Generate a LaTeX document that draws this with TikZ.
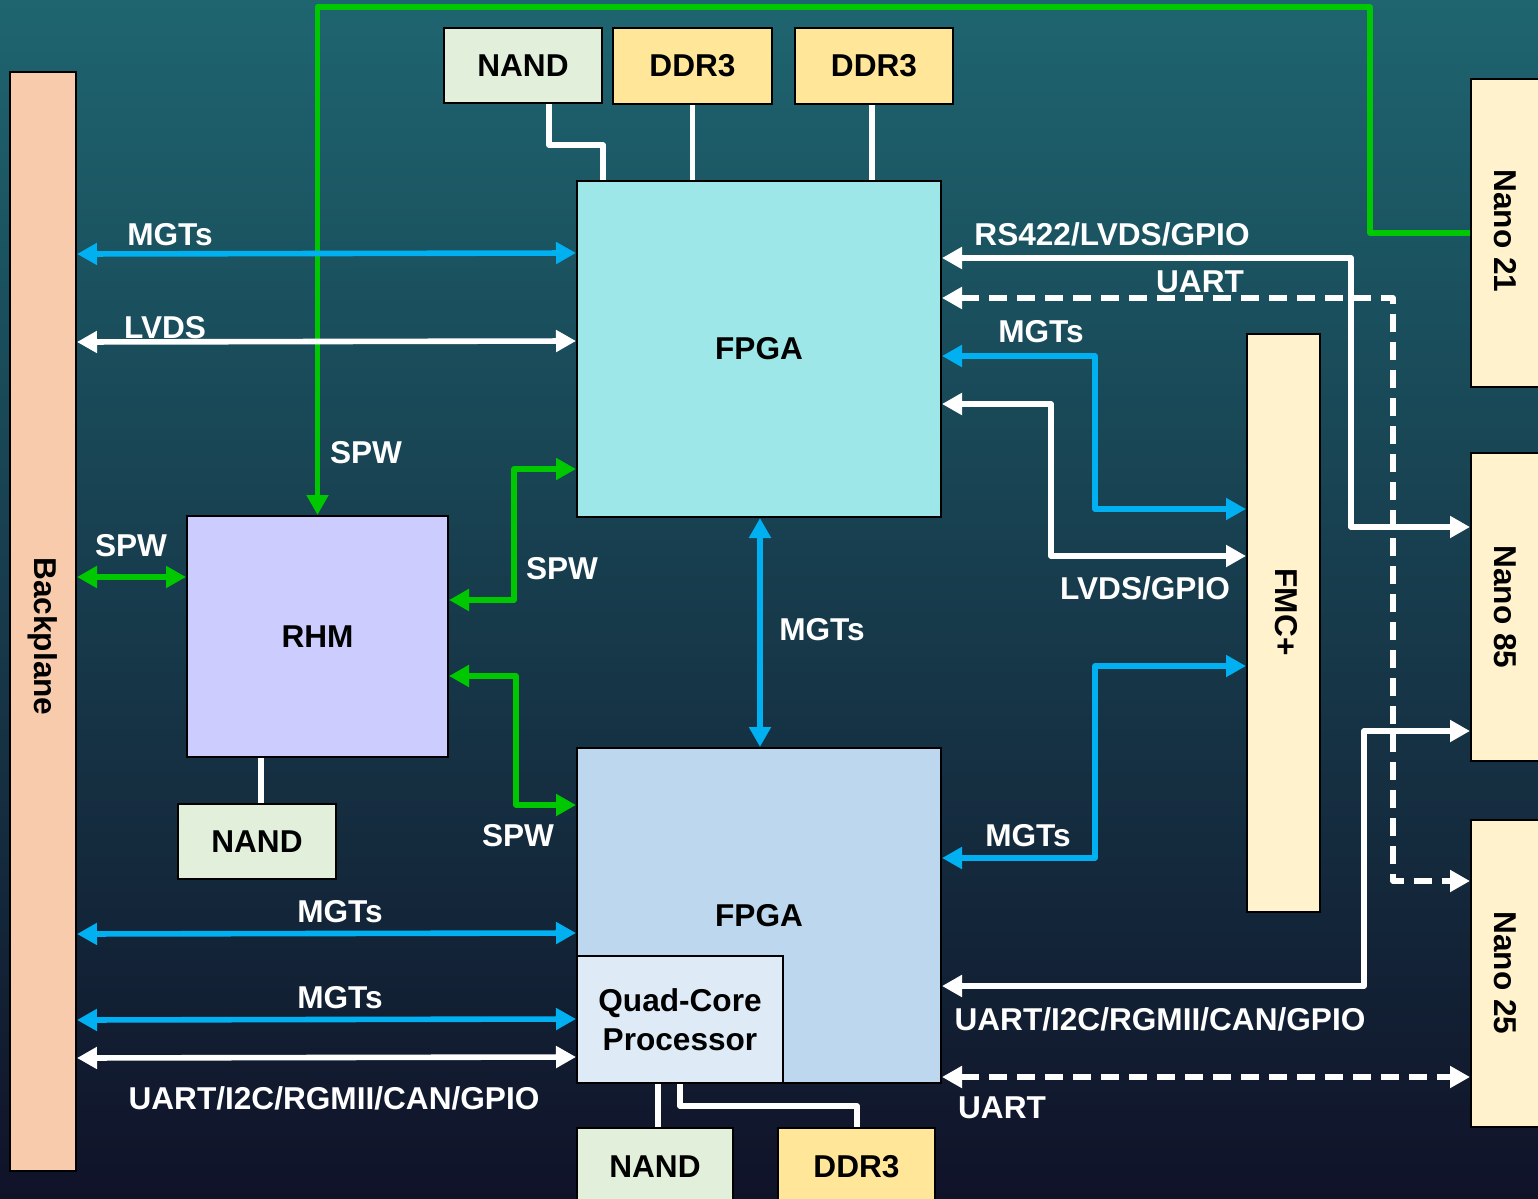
\documentclass[tikz,border=0pt]{standalone}
\usepackage{fontspec}
\setmainfont{Liberation Sans}
\usetikzlibrary{arrows.meta}
\definecolor{bpfill}{HTML}{F8CBAD}
\definecolor{nandfill}{HTML}{E2EFDA}
\definecolor{ddrfill}{HTML}{FFE699}
\definecolor{fpgaA}{HTML}{9EE7E9}
\definecolor{fpgaB}{HTML}{BDD7EE}
\definecolor{qcpfill}{HTML}{DEEBF7}
\definecolor{rhmfill}{HTML}{CCCCFF}
\definecolor{nanofill}{HTML}{FFF2CC}
\definecolor{linkblue}{HTML}{00B0F0}
\definecolor{linkgreen}{HTML}{00C800}
\definecolor{bgtop}{HTML}{1E6570}
\definecolor{bgbot}{HTML}{101228}
\newcommand{\dfont}{\bfseries\fontsize{15.8}{19.5}\selectfont}
\begin{document}
\begin{tikzpicture}[x=0.5pt,y=-0.5pt,
  >={Triangle[length=10pt,width=10.5pt]},
  box/.style={draw=black, line width=1pt, inner sep=0pt, font=\dfont, text=black, align=center},
  rottext/.style={rotate=-90, inner sep=0pt, font=\dfont, text=black},
  lbl/.style={text=white, inner sep=0pt, text height=11.3pt, text depth=0pt, font=\dfont},
  link/.style={line width=2.8pt, line join=round},
  bl/.style={link, draw=linkblue},
  wl/.style={link, draw=white},
  gl/.style={link, draw=linkgreen},
  dl/.style={link, draw=white, dash pattern=on 9pt off 5pt}
]
\useasboundingbox (0,0) rectangle (1538,1199);
\begin{scope}
\clip (0,0) rectangle (1538,1199);
\shade[top color=bgtop, bottom color=bgbot] (0,0) rectangle (1538,1199);

% boxes
\node[box, fill=bpfill, minimum width=33pt, minimum height=549.5pt] (Backplane) at (43,621.5) {};
\node[rottext] (bptext) at (43,636.5) {Backplane};
\node[box, fill=nandfill, minimum width=79pt, minimum height=37.5pt] (NANDt) at (523,65.5) {NAND};
\node[box, fill=ddrfill, minimum width=79.5pt, minimum height=38pt] (DDRa) at (692.5,66) {DDR3};
\node[box, fill=ddrfill, minimum width=79pt, minimum height=38pt] (DDRb) at (874,66) {DDR3};
\node[box, fill=fpgaA, minimum width=182pt, minimum height=168pt] (FPGA1) at (759,349) {FPGA};
\node[box, fill=rhmfill, minimum width=130.5pt, minimum height=120.5pt] (RHM) at (317.5,636.5) {RHM};
\node[box, fill=nandfill, minimum width=79pt, minimum height=37.5pt] (NANDr) at (257,841.5) {NAND};
\node[box, fill=fpgaB, minimum width=182pt, minimum height=167.5pt] (FPGA2) at (759,915.5) {FPGA};
\node[box, fill=qcpfill, minimum width=103pt, minimum height=63.5pt] (QCP) at (680,1019.5) {Quad-Core\\Processor};
\node[box, fill=nandfill, minimum width=78pt, minimum height=39pt] (NANDb) at (655,1167) {NAND};
\node[box, fill=ddrfill, minimum width=78.5pt, minimum height=39pt] (DDRc) at (856.5,1167) {DDR3};
\node[box, fill=nanofill, minimum width=36.5pt, minimum height=289pt] (FMC) at (1283.5,623) {};
\node[rottext] (fmctext) at (1286,612) {FMC+};
\node[box, fill=nanofill, minimum width=37pt, minimum height=154pt] (Nano21) at (1508,233) {};
\node[rottext] (n21text) at (1505,231) {Nano 21};
\node[box, fill=nanofill, minimum width=37pt, minimum height=154pt] (Nano85) at (1508,607) {};
\node[rottext] (n85text) at (1505,607) {Nano 85};
\node[box, fill=nanofill, minimum width=37pt, minimum height=153.5pt] (Nano25) at (1508,973.5) {};
\node[rottext] (n25text) at (1505,973) {Nano 25};

% green SPW from Nano 21 to RHM
\draw[gl,->] (Nano21.west) -| (1370,7) -| (RHM.north);

% memory links
\draw[wl] (549,0 |- NANDt.south) |- (603,145) -- (603,0 |- FPGA1.north);
\draw[wl] (DDRa.south) -- (DDRa.south |- FPGA1.north);
\draw[wl] (872,0 |- DDRb.south) -- (872,0 |- FPGA1.north);
\draw[wl] (261,0 |- RHM.south) -- (261,0 |- NANDr.north);
\draw[wl] (658,0 |- QCP.south) -- (658,0 |- NANDb.north);
\draw[wl] (680,0 |- QCP.south) |- (857,1106) -- (857,0 |- DDRc.north);

% left side
\draw[bl,<->] (Backplane.east |- 0,254) -- (FPGA1.west |- 0,253);
\draw[wl,<->] (Backplane.east |- 0,342) -- (FPGA1.west |- 0,341);
\draw[gl,<->] (Backplane.east |- 0,577) -- (RHM.west |- 0,577);
\draw[gl,<->] (RHM.east |- 0,600) -| (514,469) -- (FPGA1.west |- 0,469);
\draw[gl,<->] (RHM.east |- 0,676) -| (516,805) -- (FPGA2.west |- 0,805);
\draw[bl,<->] (760,0 |- FPGA1.south) -- (760,0 |- FPGA2.north);
\draw[bl,<->] (Backplane.east |- 0,934) -- (FPGA2.west |- 0,933);
\draw[bl,<->] (Backplane.east |- 0,1020) -- (QCP.west |- 0,1019);
\draw[wl,<->] (Backplane.east |- 0,1058) -- (QCP.west |- 0,1057);

% right side
\draw[wl,<->] (FPGA1.east |- 0,258) -| (1351,527) -- (Nano85.west |- 0,527);
\draw[bl,<->] (FPGA1.east |- 0,356) -| (1095,509) -- (FMC.west |- 0,509);
\draw[wl,<->] (FPGA1.east |- 0,404) -| (1051,556) -- (FMC.west |- 0,556);
\draw[bl,<->] (FPGA2.east |- 0,858) -| (1095,666) -- (FMC.west |- 0,666);
\draw[wl,<->] (FPGA2.east |- 0,986) -| (1364,731) -- (Nano85.west |- 0,731);
\draw[dl,<->] (FPGA1.east |- 0,298) -| (1393,881) -- (Nano25.west |- 0,881);
\draw[dl,<->] (FPGA2.east |- 0,1077) -- (Nano25.west |- 0,1077);

% labels
\node[lbl] (l1) at (170,234) {MGTs};
\node[lbl] (l2) at (165,327) {LVDS};
\node[lbl] (l3) at (366,452) {SPW};
\node[lbl] (l4) at (131,545) {SPW};
\node[lbl] (l5) at (562,568) {SPW};
\node[lbl] (l6) at (518,835) {SPW};
\node[lbl] (l7) at (822,629) {MGTs};
\node[lbl] (l8) at (1112,234) {RS422/LVDS/GPIO};
\node[lbl] (l9) at (1200,281) {UART};
\node[lbl] (l10) at (1041,331) {MGTs};
\node[lbl] (l11) at (1145,588) {LVDS/GPIO};
\node[lbl] (l12) at (1028,835) {MGTs};
\node[lbl] (l13) at (1160,1019) {UART/I2C/RGMII/CAN/GPIO};
\node[lbl] (l14) at (1002,1107) {UART};
\node[lbl] (l15) at (340,911) {MGTs};
\node[lbl] (l16) at (340,997) {MGTs};
\node[lbl] (l17) at (334,1098) {UART/I2C/RGMII/CAN/GPIO};
\end{scope}
\end{tikzpicture}
\end{document}
